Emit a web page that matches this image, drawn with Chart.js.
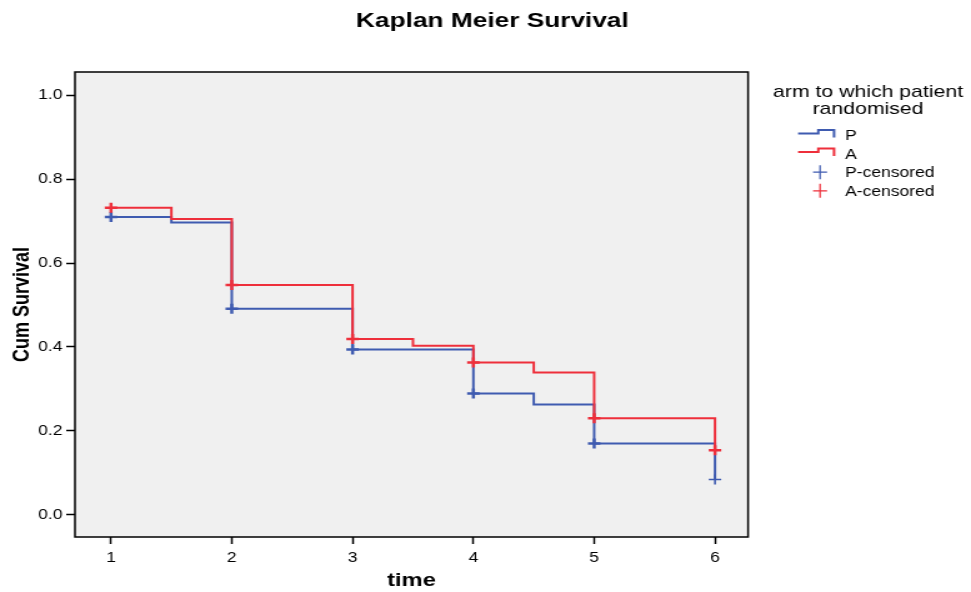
<!DOCTYPE html>
<html>
<head>
<meta charset="utf-8">
<title>Kaplan Meier Survival</title>
<script src="https://cdn.jsdelivr.net/npm/chart.js@4.4.1/dist/chart.umd.min.js"></script>
<style>
  html, body { margin: 0; padding: 0; background: #fff; overflow: hidden; }
  /* chart is laid out narrow and stretched wide, like the exported SPSS graph */
  #wrap { width: 777px; height: 592px; transform: scaleX(1.2497); transform-origin: 0 0; }
</style>
</head>
<body>
<div id="wrap"><canvas id="km"></canvas></div>
<script>
// survival estimates per arm (time, cumulative survival)
const pTimes = [1, 1.5, 2, 3, 4, 4.5, 5, 6];
const pSurvival = [0.710, 0.697, 0.491, 0.394, 0.289, 0.263, 0.170, 0.084];
const aTimes = [1, 1.5, 2, 3, 3.5, 4, 4.5, 5, 6];
const aSurvival = [0.732, 0.705, 0.548, 0.419, 0.403, 0.363, 0.339, 0.230, 0.154];

// censored observations
const censorTimes = [1, 2, 3, 4, 5, 6];
const pCensored = [0.710, 0.491, 0.394, 0.289, 0.170, 0.084];
const aCensored = [0.732, 0.548, 0.419, 0.363, 0.230, 0.154];

const xTicks = [1, 2, 3, 4, 5, 6];
const yTicks = [0, 0.2, 0.4, 0.6, 0.8, 1.0];

const BLUE = "#3f5bb0";
const RED = "#ee2f3b";
const FONT = '"Liberation Sans", Arial, sans-serif';

const toPoints = (xs, ys) => xs.map((x, i) => ({ x: x, y: ys[i] }));

// plot background, frame, title and legend
const kmDecor = {
  id: "kmDecor",
  beforeDraw(chart) {
    const { ctx, chartArea: a } = chart;
    ctx.save();
    ctx.fillStyle = "#f0f0f0";
    ctx.fillRect(a.left, a.top, a.right - a.left, a.bottom - a.top);
    ctx.restore();
  },
  afterDraw(chart) {
    const { ctx, chartArea: a } = chart;
    ctx.save();
    ctx.strokeStyle = "#000";
    ctx.lineWidth = 1.5;
    ctx.strokeRect(a.left, a.top, a.right - a.left, a.bottom - a.top);

    ctx.fillStyle = "#000";
    ctx.textAlign = "center";
    ctx.textBaseline = "alphabetic";
    ctx.font = "bold 21px " + FONT;
    ctx.fillText("Kaplan Meier Survival", 394, 27);

    // legend
    ctx.font = "17px " + FONT;
    ctx.fillText("arm to which patient", 694.6, 97.3);
    ctx.fillText("randomised", 694.6, 114.3);

    const rows = [
      { label: "P", color: BLUE, kind: "step" },
      { label: "A", color: RED, kind: "step" },
      { label: "P-censored", color: BLUE, kind: "cross" },
      { label: "A-censored", color: RED, kind: "cross" },
    ];
    ctx.font = "14px " + FONT;
    ctx.textAlign = "left";
    rows.forEach((r, i) => {
      const cy = 135 + i * 18.6;
      ctx.strokeStyle = r.color;
      ctx.beginPath();
      if (r.kind === "step") {
        ctx.lineWidth = 2;
        ctx.moveTo(638.6, cy - 1.5);
        ctx.lineTo(654.8, cy - 1.5);
        ctx.lineTo(654.8, cy - 5);
        ctx.lineTo(667.4, cy - 5);
        ctx.lineTo(667.4, cy + 2.5);
      } else {
        ctx.lineWidth = 1.2;
        ctx.moveTo(650.6, cy);
        ctx.lineTo(661.8, cy);
        ctx.moveTo(656.2, cy - 7);
        ctx.lineTo(656.2, cy + 7);
      }
      ctx.stroke();
      ctx.fillStyle = "#000";
      ctx.fillText(r.label, 676.2, cy + 5);
    });
    ctx.restore();
  },
};

const axisGrid = {
  drawOnChartArea: false,
  drawTicks: true,
  tickLength: 7,
  tickColor: "#000",
  tickWidth: 1.5,
};

// the last censored cross of each arm is drawn finer
const crossWidth = (ctx) => (ctx.raw && ctx.raw.x === 6 ? 1.6 : 2.5);

new Chart(document.getElementById("km"), {
  type: "line",
  data: {
    datasets: [
      {
        label: "P",
        data: toPoints(pTimes, pSurvival),
        stepped: "before",
        borderColor: BLUE,
        borderWidth: 2,
        pointRadius: 0,
        fill: false,
        order: 4,
      },
      {
        label: "A",
        data: toPoints(aTimes, aSurvival),
        stepped: "before",
        borderColor: RED,
        borderWidth: 2,
        pointRadius: 0,
        fill: false,
        order: 3,
      },
      {
        label: "P-censored",
        data: toPoints(censorTimes, pCensored),
        showLine: false,
        pointStyle: "cross",
        pointRadius: 5,
        pointBorderWidth: crossWidth,
        borderColor: BLUE,
        order: 2,
      },
      {
        label: "A-censored",
        data: toPoints(censorTimes, aCensored),
        showLine: false,
        pointStyle: "cross",
        pointRadius: 5,
        pointBorderWidth: 2.5,
        borderColor: RED,
        order: 1,
      },
    ],
  },
  options: {
    responsive: true,
    maintainAspectRatio: false,
    animation: false,
    events: [],
    layout: { padding: { top: 72, right: 178.4, left: 0, bottom: 0 } },
    plugins: {
      legend: { display: false },
      tooltip: { enabled: false },
    },
    scales: {
      x: {
        type: "linear",
        min: 0.702,
        max: 6.274,
        afterBuildTicks: (s) => { s.ticks = xTicks.map((v) => ({ value: v })); },
        afterFit: (s) => { s.height = 55; },
        grid: axisGrid,
        border: { display: false },
        ticks: { color: "#000", font: { family: FONT, size: 14 }, padding: 6, maxRotation: 0 },
        title: {
          display: true,
          text: "time",
          color: "#000",
          font: { family: FONT, size: 19, weight: "bold" },
          padding: { top: 0, bottom: 0 },
        },
      },
      y: {
        type: "linear",
        min: -0.053,
        max: 1.0555,
        afterBuildTicks: (s) => { s.ticks = yTicks.map((v) => ({ value: v })); },
        afterFit: (s) => { s.width = 60; },
        grid: axisGrid,
        border: { display: false },
        ticks: {
          color: "#000",
          font: { family: FONT, size: 14 },
          padding: 3,
          callback: (v) => v.toFixed(1),
        },
        title: {
          display: true,
          text: "Cum Survival",
          color: "#000",
          font: { family: FONT, size: 18, weight: "bold" },
          padding: { top: 7, bottom: 0 },
        },
      },
    },
  },
  plugins: [kmDecor],
});
</script>
</body>
</html>
